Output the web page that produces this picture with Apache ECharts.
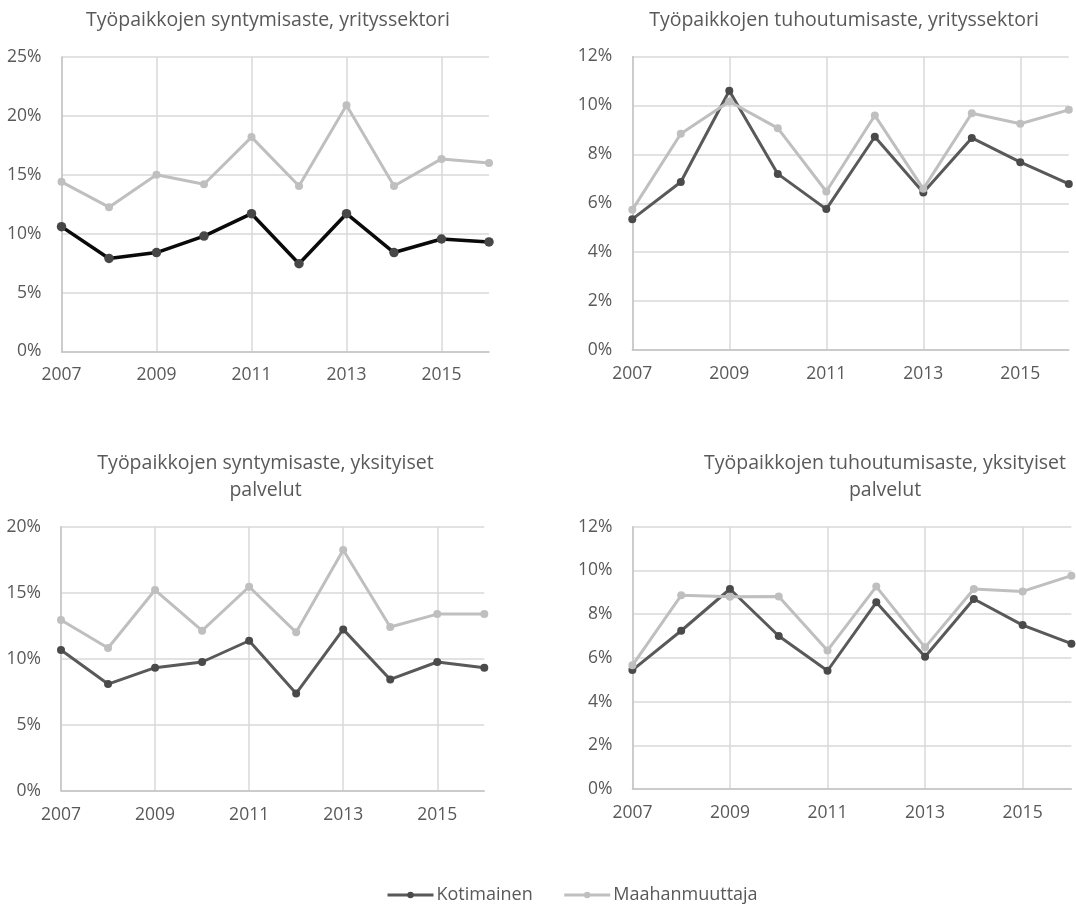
<!DOCTYPE html>
<html>
<head>
<meta charset="utf-8">
<script src="https://cdn.jsdelivr.net/npm/echarts@6/dist/echarts.min.js"></script>
<style>
html,body{margin:0;padding:0;background:#fff;}
#chart{width:1076px;height:907px;}
</style>
</head>
<body>
<div id="chart"></div>
<script>
const years = ['2007','2008','2009','2010','2011','2012','2013','2014','2015','2016'];
const seriesNames = ['Kotimainen', 'Maahanmuuttaja'];
const titles = [
  'Työpaikkojen syntymisaste, yrityssektori',
  'Työpaikkojen tuhoutumisaste, yrityssektori',
  'Työpaikkojen syntymisaste, yksityiset\npalvelut',
  'Työpaikkojen tuhoutumisaste, yksityiset\npalvelut'
];
// values in percent
const birthBusinessKot = [10.6, 7.9, 8.4, 9.8, 11.7, 7.45, 11.7, 8.4, 9.55, 9.3];
const birthBusinessMaa = [14.4, 12.25, 15.0, 14.2, 18.2, 14.05, 20.9, 14.05, 16.35, 16.0];
const deathBusinessKot = [5.35, 6.87, 10.6, 7.2, 5.76, 8.72, 6.44, 8.67, 7.68, 6.79];
const deathBusinessMaa = [5.73, 8.84, 10.16, 9.07, 6.48, 9.59, 6.59, 9.68, 9.25, 9.82];
const birthServicesKot = [10.66, 8.08, 9.32, 9.75, 11.36, 7.37, 12.22, 8.43, 9.75, 9.32];
const birthServicesMaa = [12.93, 10.81, 15.2, 12.12, 15.45, 12.0, 18.23, 12.4, 13.38, 13.38];
const deathServicesKot = [5.44, 7.24, 9.15, 7.0, 5.41, 8.54, 6.05, 8.69, 7.5, 6.65];
const deathServicesMaa = [5.66, 8.86, 8.8, 8.81, 6.34, 9.26, 6.48, 9.15, 9.04, 9.76];
const yMax = [25, 12, 20, 12];
const yInterval = [5, 2, 5, 2];

const FONT = '"Open Sans", Lato, sans-serif';
const TXT = '#595959';
const DARK = '#595959';
const LIGHT = '#bfbfbf';

const grids = [
  {left: 61.5, top: 57, width: 427.5, height: 294.5},
  {left: 632.3, top: 56.5, width: 436.5, height: 293.5},
  {left: 61, top: 526.7, width: 423.3, height: 264},
  {left: 632.4, top: 526.7, width: 439, height: 262.3}
];
const titlePos = [
  {left: 263, top: 2},
  {left: 839, top: 2},
  {left: 260.5, top: 444.5},
  {left: 880, top: 444.5}
];
const dataPairs = [
  [birthBusinessKot, birthBusinessMaa],
  [deathBusinessKot, deathBusinessMaa],
  [birthServicesKot, birthServicesMaa],
  [deathServicesKot, deathServicesMaa]
];

const xAxes = grids.map((g, i) => ({
  type: 'category', gridIndex: i, data: years, boundaryGap: false,
  axisLine: {show: true, lineStyle: {color: '#c4c4c4', width: 1.5}},
  axisTick: {show: false},
  axisLabel: {interval: 1, color: TXT, fontFamily: FONT, fontSize: 17.5, margin: 15},
  splitLine: {show: true, interval: 1, lineStyle: {color: '#d9d9d9', width: 1.5}}
}));
const yAxes = grids.map((g, i) => ({
  type: 'value', gridIndex: i, min: 0, max: yMax[i], interval: yInterval[i],
  axisLine: {show: true, lineStyle: {color: '#c4c4c4', width: 1.5}},
  axisTick: {show: false},
  axisLabel: {color: TXT, fontFamily: FONT, fontSize: 17.5, margin: 20, formatter: v => v + '%'},
  splitLine: {show: true, lineStyle: {color: '#d9d9d9', width: 1.5}}
}));

const series = [];
dataPairs.forEach((pair, i) => {
  const first = i === 0;
  series.push({
    name: seriesNames[0], type: 'line', xAxisIndex: i, yAxisIndex: i, data: pair[0],
    symbol: 'circle', symbolSize: first ? 9.5 : 8,
    lineStyle: {color: first ? '#0a0a0a' : DARK, width: first ? 3.5 : 3},
    itemStyle: {color: first ? '#474747' : '#4a4a4a'},
    emphasis: {disabled: true}, animation: false, z: 3
  });
  series.push({
    name: seriesNames[1], type: 'line', xAxisIndex: i, yAxisIndex: i, data: pair[1],
    symbol: 'circle', symbolSize: 8,
    lineStyle: {color: LIGHT, width: 3},
    itemStyle: {color: LIGHT},
    emphasis: {disabled: true}, animation: false, z: 4
  });
});

const chart = echarts.init(document.getElementById('chart'));
chart.setOption({
  backgroundColor: '#fff',
  animation: false,
  title: titles.map((t, i) => ({
    text: t, left: titlePos[i].left, top: titlePos[i].top, textAlign: 'center',
    textStyle: {color: TXT, fontFamily: FONT, fontSize: 19.5, fontWeight: 'normal', lineHeight: 27}
  })),
  legend: {
    left: 381, top: 881, itemWidth: 46, itemHeight: 8, itemGap: 30,
    textStyle: {color: TXT, fontFamily: FONT, fontSize: 18, padding: [0,0,0,-2]},
    data: [
      {name: seriesNames[0], itemStyle: {color: '#4a4a4a'}, lineStyle: {color: DARK, width: 3}},
      {name: seriesNames[1], itemStyle: {color: LIGHT}, lineStyle: {color: LIGHT, width: 3}}
    ]
  },
  grid: grids,
  xAxis: xAxes,
  yAxis: yAxes,
  series: series
});
</script>
</body>
</html>
